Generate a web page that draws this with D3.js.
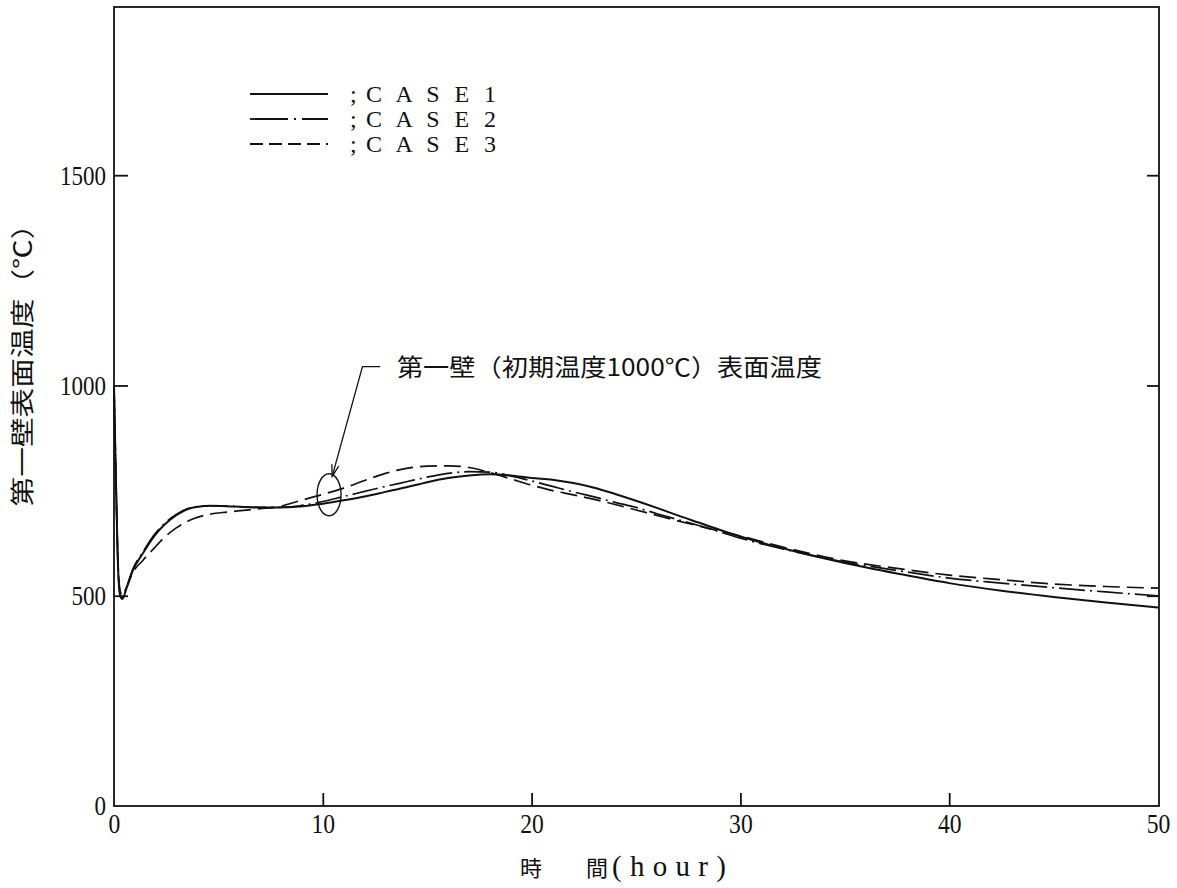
<!DOCTYPE html>
<html>
<head>
<meta charset="utf-8">
<script src="https://d3js.org/d3.v7.min.js"></script>
<style>
  html, body { margin: 0; padding: 0; background: #fff; }
  svg { display: block; }
</style>
</head>
<body>
<svg id="chart" width="1177" height="888"></svg>
<script>
// ---------- data ----------
const seriesNames = ["CASE 1", "CASE 2", "CASE 3"];
const times = [0, 0.1, 0.2, 0.3, 0.4, 0.6, 0.9, 1.4, 1.9, 2.4, 3, 3.8, 4.6, 5.4, 6.2, 7, 7.8, 8.9,
  10, 11, 12, 13, 14, 15, 16, 17, 18, 19, 20, 21, 22, 23, 24, 25, 26, 27, 28, 29, 30,
  32.5, 35, 37.5, 40, 42.5, 45, 47.5, 50];
const case1 = [1000, 760, 560, 500, 492, 518, 560, 602, 640, 668, 692, 710, 714, 713, 711, 710, 710, 712,
  719, 727, 736, 747, 758, 770, 780, 786, 789, 786, 780, 776, 768, 757, 742, 726, 709, 691, 674, 657, 641,
  607, 578, 553, 530, 512, 497, 484, 472];
const case2 = [1000, 760, 560, 502, 495, 520, 563, 605, 643, 671, 694, 711, 714, 713, 711, 710, 710, 714,
  724, 736, 748, 760, 771, 782, 791, 795, 794, 785, 773, 760, 747, 735, 722, 710, 695, 681, 667, 652, 637,
  606, 580, 560, 542, 530, 519, 509, 500];
const case3 = [1000, 760, 570, 510, 500, 520, 555, 585, 612, 638, 662, 683, 694, 699, 703, 707, 711, 726,
  741, 756, 774, 791, 803, 808, 809, 805, 793, 778, 763, 750, 740, 729, 717, 704, 691, 678, 666, 654, 642,
  610, 583, 565, 549, 538, 528, 522, 518];
const xTicks = [0, 10, 20, 30, 40, 50];
const yTicks = [0, 500, 1000, 1500];
const xTitleParts = ["時", "間", "(hour)"];
const yTitle = "第一壁表面温度（℃）";
const noteText = "第一壁（初期温度1000℃）表面温度";

// ---------- layout ----------
const svg = d3.select("#chart");
const L = 114, R = 1159, T = 7, B = 806;
const x = d3.scaleLinear().domain([0, 50]).range([L, R - 1]);
const y = d3.scaleLinear().domain([0, 1900]).range([B, T]);
const ink = "#111";
const serif = "'Liberation Serif', 'DejaVu Serif', serif";
const cjk = "'Noto Sans CJK JP', 'Noto Sans CJK SC', sans-serif";

// frame
svg.append("rect").attr("x", L).attr("y", T).attr("width", R - L).attr("height", B - T)
  .attr("fill", "none").attr("stroke", ink).attr("stroke-width", 1.8);

// left axis (inward ticks)
const gy = svg.append("g").attr("transform", `translate(${L},0)`)
  .call(d3.axisLeft(y).tickValues(yTicks).tickSize(-14).tickPadding(8).tickFormat(d3.format("d")));
gy.select(".domain").remove();
gy.selectAll(".tick line").attr("stroke", ink).attr("stroke-width", 1.8)
  .filter(d => d === 0).remove();
gy.selectAll(".tick text").attr("font-family", serif).attr("font-size", 28).attr("fill", ink)
  .attr("textLength", d => String(d).length * 11.5).attr("lengthAdjust", "spacingAndGlyphs");

// right axis ticks (inward)
const gr = svg.append("g").attr("transform", `translate(${R},0)`)
  .call(d3.axisRight(y).tickValues(yTicks.filter(d => d > 0)).tickSize(-12).tickFormat(""));
gr.select(".domain").remove();
gr.selectAll(".tick line").attr("stroke", ink).attr("stroke-width", 1.8);

// bottom axis (inward ticks)
const gx = svg.append("g").attr("transform", `translate(0,${B})`)
  .call(d3.axisBottom(x).tickValues(xTicks).tickSize(-13).tickPadding(10).tickFormat(d3.format("d")));
gx.select(".domain").remove();
gx.selectAll(".tick line").attr("stroke", ink).attr("stroke-width", 1.8)
  .filter(d => d === 0 || d === 50).remove();
gx.selectAll(".tick text").attr("font-family", serif).attr("font-size", 28).attr("fill", ink)
  .attr("dy", "0.6em")
  .attr("textLength", d => String(d).length * 11.8).attr("lengthAdjust", "spacingAndGlyphs");

// ---------- lines ----------
const line = d3.line().x(d => x(d[0])).y(d => y(d[1])).curve(d3.curveMonotoneX);
const seriesData = [case1, case2, case3].map(vals => times.map((t, i) => [t, vals[i]]));
const dashes = [null, "26,5,2,5", "17,7"];
const widths = [2.0, 1.7, 1.7];
svg.append("g").selectAll("path").data(seriesData).join("path")
  .attr("d", line)
  .attr("fill", "none")
  .attr("stroke", ink)
  .attr("stroke-width", (d, i) => widths[i])
  .attr("stroke-dasharray", (d, i) => dashes[i]);

// ---------- legend ----------
const legendDash = [null, "38,6,2,6", "13,6"];
const lg = svg.append("g").attr("font-family", serif).attr("fill", ink);
seriesNames.forEach((name, i) => {
  const ly = 94 + i * 25;
  lg.append("line").attr("x1", 250).attr("x2", 328).attr("y1", ly).attr("y2", ly)
    .attr("stroke", ink).attr("stroke-width", 1.8).attr("stroke-dasharray", legendDash[i]);
  lg.append("text").attr("x", 350).attr("y", ly + 8).attr("font-size", 24).text(";");
  lg.append("text").attr("x", 366).attr("y", ly + 8).attr("font-size", 24)
    .attr("textLength", 130).attr("lengthAdjust", "spacing")
    .text(name.replace(" ", "").split("").join(" "));
});

// ---------- annotation ----------
const ag = svg.append("g");
ag.append("ellipse").attr("cx", x(10.3)).attr("cy", y(740)).attr("rx", 12).attr("ry", 21)
  .attr("fill", "none").attr("stroke", ink).attr("stroke-width", 1.4);
const tipX = x(10.45), tipY = y(784);
const elbowX = x(11.9), elbowY = y(1045);
ag.append("path")
  .attr("d", `M${x(12.75)},${elbowY}L${elbowX},${elbowY}L${tipX},${tipY}`)
  .attr("fill", "none").attr("stroke", ink).attr("stroke-width", 1.3);
const ang = Math.atan2(tipY - elbowY, tipX - elbowX);
const ah = 12, aw = 0.3;
ag.append("path")
  .attr("d", `M${tipX - ah * Math.cos(ang - aw)},${tipY - ah * Math.sin(ang - aw)}L${tipX},${tipY}L${tipX - ah * Math.cos(ang + aw)},${tipY - ah * Math.sin(ang + aw)}`)
  .attr("fill", "none").attr("stroke", ink).attr("stroke-width", 1.3);
ag.append("text").attr("x", x(13.55)).attr("y", y(1043) + 9)
  .attr("font-family", cjk).attr("font-size", 24).attr("fill", ink)
  .attr("textLength", 425).attr("lengthAdjust", "spacingAndGlyphs")
  .text(noteText);

// ---------- axis titles ----------
const xt = svg.append("g").attr("fill", ink);
xt.append("text").attr("x", 531).attr("y", 876).attr("text-anchor", "middle")
  .attr("font-family", cjk).attr("font-size", 22).text(xTitleParts[0]);
xt.append("text").attr("x", 597).attr("y", 876).attr("text-anchor", "middle")
  .attr("font-family", cjk).attr("font-size", 22).text(xTitleParts[1]);
xt.append("text").attr("x", 612).attr("y", 876)
  .attr("font-family", serif).attr("font-size", 29)
  .attr("textLength", 114).attr("lengthAdjust", "spacing").text(xTitleParts[2]);

svg.append("text")
  .attr("transform", "translate(31,358) rotate(-90)")
  .attr("text-anchor", "middle")
  .attr("font-family", cjk).attr("font-size", 24).attr("fill", ink)
  .attr("textLength", 297).attr("lengthAdjust", "spacingAndGlyphs")
  .text(yTitle);
</script>
</body>
</html>
